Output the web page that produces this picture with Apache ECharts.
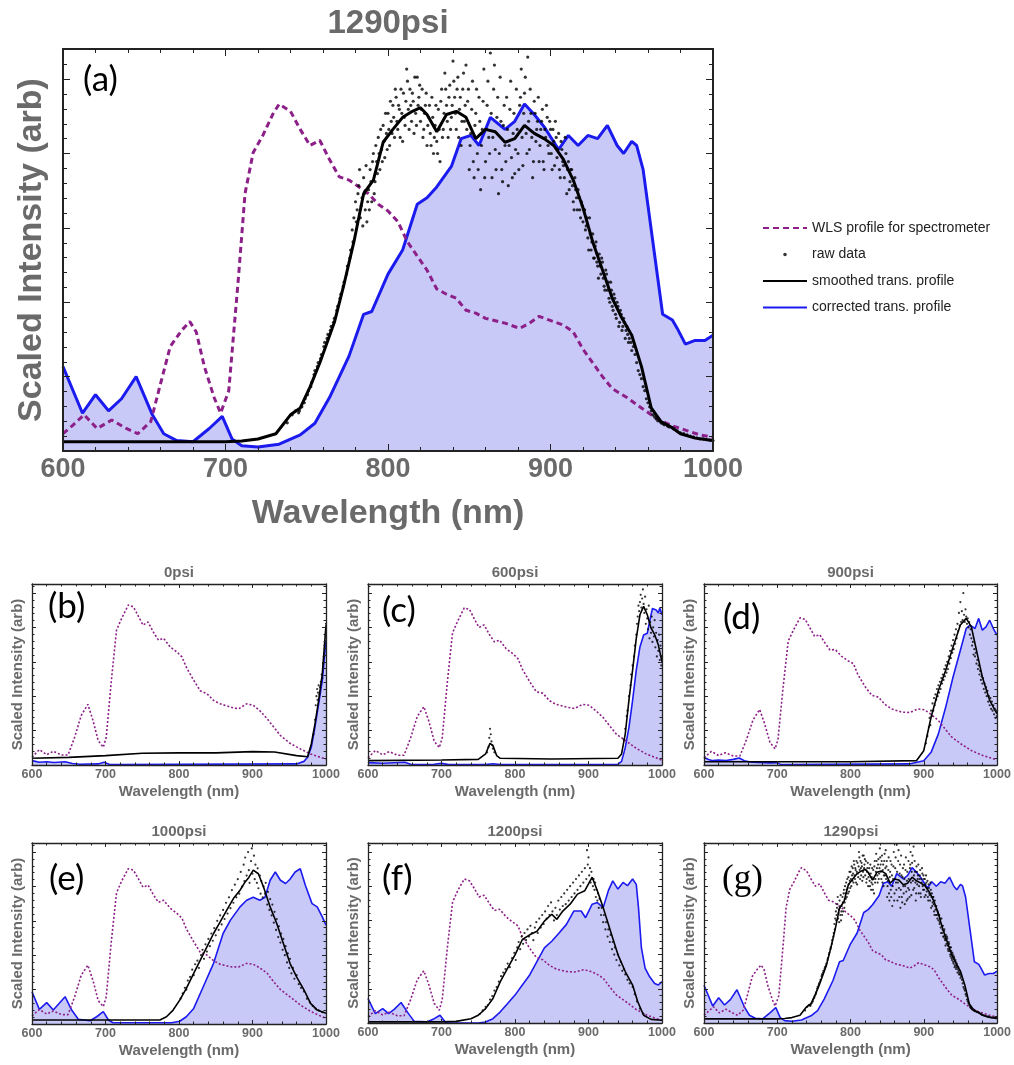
<!DOCTYPE html>
<html>
<head>
<meta charset="utf-8">
<script src="https://cdn.jsdelivr.net/npm/echarts@6/dist/echarts.min.js"></script>
<style>
  html, body { margin: 0; padding: 0; background: #ffffff; }
  #chart { width: 1014px; height: 1065px; }
</style>
</head>
<body>
<div id="chart"></div>
<script>
// ---------------- data: [wavelength nm, scaled intensity] ----------------

// 1290 psi (panels a and g)
const WLS_1290 = [[600,0.043],[606,0.064],[613,0.09],[621,0.056],[630,0.077],[639,0.056],[646,0.043],[654,0.073],[660,0.167],[666,0.26],[673,0.30],[678,0.322],[682,0.296],[687,0.21],[693,0.133],[697,0.094],[702,0.15],[708,0.433],[712,0.64],[717,0.742],[723,0.785],[729,0.837],[733,0.863],[740,0.845],[746,0.80],[752,0.76],[758,0.773],[764,0.725],[770,0.682],[776,0.674],[782,0.657],[788,0.64],[794,0.614],[800,0.597],[806,0.571],[812,0.52],[818,0.485],[824,0.45],[830,0.403],[836,0.39],[842,0.38],[848,0.35],[854,0.343],[860,0.33],[872,0.318],[881,0.305],[887,0.318],[893,0.335],[899,0.326],[908,0.313],[914,0.296],[920,0.253],[926,0.219],[932,0.185],[938,0.155],[947,0.133],[956,0.107],[965,0.082],[974,0.064],[983,0.052],[992,0.04],[1000,0.034]];
const COR_1290 = [[600,0.21],[612,0.094],[620,0.14],[628,0.10],[636,0.13],[645,0.185],[655,0.09],[662,0.043],[670,0.026],[680,0.023],[690,0.056],[698,0.086],[704,0.03],[710,0.013],[720,0.01],[733,0.017],[746,0.04],[755,0.069],[764,0.133],[776,0.236],[785,0.34],[790,0.347],[800,0.44],[809,0.50],[818,0.614],[824,0.63],[830,0.657],[839,0.708],[845,0.777],[851,0.785],[856,0.76],[863,0.83],[872,0.80],[878,0.82],[884,0.863],[890,0.837],[896,0.807],[905,0.75],[911,0.785],[917,0.76],[923,0.785],[929,0.777],[935,0.81],[941,0.76],[945,0.74],[950,0.77],[953,0.76],[957,0.70],[963,0.52],[969,0.34],[975,0.326],[978,0.305],[983,0.266],[989,0.275],[995,0.275],[1000,0.288]];
const SM_1290 = [[600,0.023],[650,0.023],[700,0.023],[710,0.025],[720,0.03],[731,0.043],[740,0.09],[746,0.107],[752,0.159],[758,0.219],[767,0.32],[773,0.416],[779,0.52],[785,0.64],[791,0.674],[797,0.768],[803,0.80],[809,0.83],[815,0.845],[820,0.854],[824,0.837],[830,0.794],[836,0.837],[842,0.845],[848,0.83],[854,0.777],[860,0.80],[866,0.794],[872,0.768],[878,0.777],[884,0.81],[890,0.79],[896,0.777],[902,0.76],[908,0.725],[914,0.674],[920,0.605],[926,0.52],[932,0.45],[938,0.38],[944,0.33],[950,0.288],[956,0.21],[962,0.107],[968,0.073],[974,0.06],[980,0.043],[989,0.032],[1000,0.026]];
const RAW_1290 = [[738,0.07],[741,0.09],[743,0.1],[745,0.095],[747,0.11],[749,0.13],[751,0.15],[753,0.17],[755,0.2],[757,0.22],[759,0.24],[761,0.27],[763,0.29],[765,0.31],[767,0.33],[769,0.36],[771,0.39],[773,0.42],[775,0.46],[777,0.5],[778,0.55],[779,0.58],[780,0.62],[781,0.6],[782,0.66],[783,0.58],[784,0.63],[785,0.68],[786,0.6],[787,0.57],[788,0.65],[789,0.7],[790,0.62],[791,0.74],[792,0.67],[793,0.72],[794,0.78],[795,0.7],[796,0.75],[797,0.81],[798,0.73],[799,0.79],[800,0.84],[801,0.76],[802,0.82],[803,0.86],[804,0.78],[805,0.88],[806,0.8],[807,0.85],[808,0.9],[809,0.77],[810,0.83],[811,0.87],[812,0.92],[813,0.8],[814,0.86],[815,0.89],[816,0.79],[817,0.84],[818,0.93],[819,0.88],[820,0.82],[821,0.9],[822,0.8],[823,0.86],[824,0.76],[825,0.83],[826,0.79],[827,0.88],[828,0.74],[829,0.81],[830,0.77],[831,0.85],[832,0.72],[833,0.9],[834,0.8],[835,0.94],[836,0.86],[837,0.78],[838,0.91],[839,0.83],[840,0.97],[841,0.88],[842,0.8],[843,0.93],[844,0.85],[845,0.76],[846,0.9],[847,0.82],[848,0.96],[849,0.87],[850,0.7],[851,0.79],[852,0.92],[853,0.68],[854,0.84],[855,0.74],[856,0.88],[857,0.65],[858,0.8],[859,0.95],[860,0.72],[861,0.86],[862,0.78],[863,0.99],[864,0.68],[865,0.9],[866,0.75],[867,0.83],[868,0.64],[869,0.93],[870,0.7],[871,0.81],[872,0.76],[873,0.88],[874,0.66],[875,0.85],[876,0.73],[877,0.79],[878,0.69],[879,0.9],[880,0.74],[881,0.86],[882,0.95],[883,0.71],[884,0.89],[885,0.79],[886,0.98],[887,0.75],[888,0.84],[889,0.68],[890,0.87],[891,0.77],[892,0.82],[893,0.72],[894,0.8],[895,0.85],[896,0.7],[897,0.78],[898,0.83],[899,0.74],[900,0.8],[901,0.7],[902,0.77],[903,0.82],[904,0.73],[905,0.79],[906,0.68],[907,0.75],[908,0.71],[909,0.78],[910,0.64],[911,0.72],[912,0.67],[913,0.7],[914,0.62],[915,0.68],[916,0.63],[917,0.65],[918,0.6],[919,0.62],[920,0.57],[921,0.6],[922,0.56],[923,0.53],[924,0.58],[925,0.5],[926,0.54],[927,0.48],[928,0.52],[929,0.46],[930,0.49],[931,0.44],[932,0.47],[933,0.41],[934,0.45],[935,0.4],[936,0.38],[937,0.42],[938,0.36],[939,0.39],[940,0.34],[941,0.37],[942,0.31],[943,0.35],[944,0.3],[945,0.33],[946,0.28],[947,0.31],[948,0.27],[950,0.25],[952,0.24],[954,0.2],[956,0.18],[958,0.15],[960,0.12],[962,0.1],[964,0.085],[966,0.075],[968,0.07],[970,0.065],[973,0.06],[976,0.055],[980,0.045],[984,0.04],[988,0.035],[992,0.03],[996,0.028],[1000,0.026],
  [745.5,0.1],[748.5,0.12],[750.5,0.14],[752.5,0.16],[754.5,0.19],[756.5,0.21],[758.5,0.23],[760.5,0.26],[762.5,0.28],[764.5,0.3],[766.5,0.32],[768.5,0.35],[770.5,0.38],[772.5,0.41],[774.5,0.44],[776.5,0.48],[778.5,0.52],[780.5,0.57],[781.5,0.64],[782.5,0.7],[783.5,0.61],[784.5,0.56],[785.5,0.64],[786.5,0.71],[787.5,0.62],[788.5,0.6],[789.5,0.67],[790.5,0.72],[791.5,0.64],[792.5,0.76],[793.5,0.69],[794.5,0.74],[795.5,0.8],[796.5,0.72],[797.5,0.77],[798.5,0.84],[799.5,0.75],[800.5,0.8],[801.5,0.87],[802.5,0.79],[803.5,0.83],[804.5,0.9],[805.5,0.82],[806.5,0.86],[807.5,0.78],[808.5,0.84],[809.5,0.89],[810.5,0.81],[811.5,0.95],[812.5,0.85],[813.5,0.9],[814.5,0.82],[815.5,0.87],[816.5,0.93],[817.5,0.81],[818.5,0.86],[819.5,0.91],[820.5,0.85],[821.5,0.78],[822.5,0.84],[823.5,0.89],[824.5,0.81],[825.5,0.86],[826.5,0.76],[827.5,0.83],[828.5,0.78],[829.5,0.86],[830.5,0.74],[831.5,0.8],[832.5,0.87],[833.5,0.78],[834.5,0.84],[835.5,0.9],[836.5,0.82],[837.5,0.88],[838.5,0.8],[839.5,0.86],[840.5,0.92],[841.5,0.84],[842.5,0.9],[843.5,0.78],[844.5,0.88],[845.5,0.82],[846.5,0.94],[847.5,0.86],[848.5,0.8],[849.5,0.9],[850.5,0.76],[851.5,0.85],[852.5,0.72],[853.5,0.81],[854.5,0.9],[855.5,0.7],[856.5,0.82],[857.5,0.76],[858.5,0.87],[859.5,0.68],[860.5,0.8],[861.5,0.92],[862.5,0.74],[863.5,0.84],[864.5,0.78],[865.5,0.96],[866.5,0.7],[867.5,0.88],[868.5,0.74],[869.5,0.82],[870.5,0.67],[871.5,0.86],[872.5,0.72],[873.5,0.8],[874.5,0.76],[875.5,0.92],[876.5,0.68],[877.5,0.84],[878.5,0.75],[879.5,0.8],[880.5,0.7],[881.5,0.88],[882.5,0.78],[883.5,0.84],[884.5,0.93],[885.5,0.74],[886.5,0.82],[887.5,0.9],[888.5,0.78],[889.5,0.72],[890.5,0.84],[891.5,0.8],[892.5,0.88],[893.5,0.76],[894.5,0.82],[895.5,0.72],[896.5,0.8],[897.5,0.86],[898.5,0.76],[899.5,0.82],[900.5,0.74],[901.5,0.8],[902.5,0.71],[903.5,0.78],[904.5,0.75],[905.5,0.7],[906.5,0.77],[907.5,0.72],[908.5,0.68],[909.5,0.74],[910.5,0.7],[911.5,0.65],[912.5,0.7],[913.5,0.66],[914.5,0.6],[915.5,0.65],[916.5,0.6],[917.5,0.63],[918.5,0.58],[919.5,0.61],[920.5,0.6],[921.5,0.55],[922.5,0.58],[923.5,0.5],[924.5,0.54],[925.5,0.52],[926.5,0.48],[927.5,0.51],[928.5,0.47],[929.5,0.43],[930.5,0.46],[931.5,0.48],[932.5,0.43],[933.5,0.4],[934.5,0.44],[935.5,0.42],[936.5,0.37],[937.5,0.4],[938.5,0.35],[939.5,0.38],[940.5,0.33],[941.5,0.36],[942.5,0.32],[943.5,0.34],[944.5,0.31],[945.5,0.32],[946.5,0.3],[947.5,0.29],[948.5,0.28],[949.5,0.27],[951,0.26],[953,0.22],[955,0.19],[957,0.16],[959,0.13],[961,0.11],[963,0.09],[965,0.08],[967,0.075],[969,0.068],[972,0.062],[975,0.058],[978,0.05],[982,0.043],[986,0.037],[990,0.033],[994,0.03],[998,0.027]];

// wavelength grid of the WLS profile in the small panels
const WLS_NM = [600,610,620,629,640,649,658,667,676,683,690,697,701,708,715,722,731,738,745,751,758,765,772,779,788,797,804,810,820,829,838,847,856,870,881,892,901,910,920,929,938,951,965,979,992,1000];
const WLS_0    = [0.043,0.085,0.057,0.076,0.055,0.055,0.153,0.274,0.335,0.246,0.135,0.098,0.153,0.468,0.745,0.81,0.884,0.874,0.82,0.773,0.79,0.735,0.69,0.70,0.652,0.625,0.597,0.54,0.468,0.41,0.394,0.357,0.338,0.32,0.31,0.338,0.33,0.30,0.255,0.209,0.163,0.12,0.089,0.061,0.043,0.033];
const WLS_600  = [0.04,0.08,0.056,0.074,0.054,0.054,0.15,0.268,0.322,0.24,0.132,0.096,0.15,0.46,0.73,0.795,0.868,0.86,0.805,0.76,0.774,0.722,0.68,0.69,0.642,0.615,0.588,0.53,0.46,0.405,0.396,0.355,0.335,0.32,0.312,0.335,0.33,0.3,0.262,0.215,0.17,0.133,0.092,0.06,0.04,0.026];
const WLS_900  = [0.04,0.075,0.052,0.068,0.05,0.05,0.14,0.25,0.307,0.225,0.125,0.089,0.14,0.43,0.685,0.745,0.813,0.805,0.755,0.71,0.72,0.675,0.635,0.638,0.6,0.575,0.56,0.5,0.432,0.385,0.375,0.335,0.31,0.292,0.29,0.31,0.305,0.28,0.246,0.2,0.155,0.116,0.08,0.055,0.038,0.028];
const WLS_1000 = [0.045,0.08,0.055,0.072,0.052,0.052,0.15,0.27,0.325,0.24,0.13,0.096,0.15,0.46,0.725,0.79,0.858,0.85,0.8,0.755,0.767,0.715,0.672,0.684,0.64,0.612,0.585,0.525,0.455,0.395,0.381,0.35,0.33,0.316,0.315,0.335,0.33,0.31,0.28,0.232,0.19,0.15,0.105,0.07,0.045,0.031];
const WLS_1200 = [0.035,0.068,0.045,0.06,0.04,0.04,0.13,0.24,0.29,0.21,0.11,0.071,0.13,0.42,0.67,0.735,0.80,0.79,0.745,0.70,0.71,0.665,0.625,0.632,0.59,0.56,0.54,0.48,0.415,0.365,0.351,0.32,0.3,0.286,0.283,0.295,0.29,0.275,0.249,0.2,0.155,0.118,0.075,0.045,0.025,0.015];

// 0 psi
const COR_0 = [[600,0.024],[610,0.015],[620,0.018],[630,0.014],[645,0.018],[655,0.008],[665,0.004],[690,0.006],[698,0.015],[705,0.004],[720,0.003],[960,0.006],[970,0.02],[975,0.043],[980,0.098],[985,0.21],[990,0.338],[995,0.468],[1000,0.69]];
const SM_0 = [[600,0.037],[650,0.042],[700,0.052],[750,0.065],[800,0.067],[850,0.067],[900,0.074],[930,0.072],[960,0.052],[975,0.046],[980,0.116],[985,0.227],[990,0.357],[995,0.505],[1000,0.773]];
const RAW_0 = [[983,0.17],[985,0.25],[986,0.33],[987,0.38],[988,0.42],[988.5,0.36],[989,0.4],[990,0.44],[991,0.39],[992,0.43],[993,0.46],[994,0.5],[995,0.48],[996,0.56],[997,0.6],[998,0.66],[999,0.72],[1000,0.78]];

// 600 psi
const COR_600 = [[600,0.013],[620,0.01],[650,0.015],[660,0.002],[690,0.004],[700,0.009],[710,0.002],[760,0.002],[770,0.007],[780,0.002],[940,0.003],[945,0.02],[950,0.096],[955,0.207],[960,0.357],[965,0.524],[970,0.652],[975,0.718],[980,0.728],[983,0.79],[987,0.865],[992,0.857],[995,0.84],[997,0.867],[1000,0.83]];
const SM_600 = [[600,0.024],[700,0.028],[750,0.031],[760,0.061],[766,0.12],[770,0.107],[775,0.052],[780,0.037],[850,0.033],[940,0.037],[945,0.061],[950,0.172],[955,0.357],[960,0.524],[965,0.70],[970,0.83],[975,0.876],[980,0.83],[985,0.757],[990,0.72],[995,0.664],[1000,0.57]];
const RAW_600 = [[762,0.07],[764,0.1],[765,0.15],[766,0.2],[767,0.17],[768,0.13],[769,0.11],[770,0.09],[772,0.07],[948,0.14],[950,0.2],[952,0.27],[953,0.3],[955,0.38],[957,0.44],[958,0.5],[960,0.55],[962,0.6],[963,0.66],[965,0.72],[966,0.78],[967,0.82],[968,0.88],[969,0.85],[970,0.9],[971,0.94],[972,0.87],[973,0.92],[974,0.97],[975,0.89],[976,0.84],[977,0.93],[978,0.78],[979,0.86],[980,0.81],[981,0.75],[982,0.88],[983,0.7],[984,0.79],[985,0.73],[986,0.82],[987,0.68],[988,0.76],[989,0.71],[990,0.8],[991,0.65],[992,0.73],[993,0.6],[994,0.69],[995,0.63],[996,0.72],[997,0.58],[998,0.66],[999,0.55],[1000,0.6]];

// 900 psi
const COR_900 = [[600,0.043],[606,0.03],[612,0.024],[620,0.028],[630,0.025],[640,0.031],[648,0.039],[655,0.024],[665,0.015],[690,0.012],[700,0.013],[705,0.002],[880,0.006],[900,0.024],[910,0.07],[920,0.172],[930,0.32],[940,0.486],[950,0.634],[958,0.754],[963,0.773],[970,0.754],[975,0.81],[980,0.745],[985,0.763],[990,0.80],[995,0.754],[1000,0.717]];
const SM_900 = [[600,0.018],[700,0.018],[800,0.018],[890,0.024],[900,0.079],[910,0.264],[920,0.412],[930,0.523],[940,0.652],[950,0.773],[958,0.81],[965,0.763],[970,0.67],[975,0.578],[980,0.486],[985,0.421],[990,0.357],[995,0.32],[1000,0.283]];
const RAW_900 = [[903,0.12],[905,0.16],[907,0.21],[908,0.26],[909,0.22],[910,0.3],[911,0.27],[912,0.34],[913,0.3],[914,0.37],[915,0.33],[916,0.39],[917,0.36],[918,0.42],[919,0.38],[920,0.44],[921,0.4],[922,0.46],[923,0.42],[924,0.48],[925,0.45],[926,0.5],[927,0.47],[928,0.53],[929,0.49],[930,0.55],[931,0.51],[932,0.57],[933,0.53],[934,0.6],[935,0.56],[936,0.63],[937,0.59],[938,0.66],[939,0.62],[940,0.69],[941,0.64],[942,0.72],[943,0.67],[944,0.75],[945,0.7],[946,0.78],[947,0.74],[948,0.84],[949,0.77],[950,0.9],[951,0.79],[952,0.85],[953,0.8],[954,0.95],[955,0.83],[956,0.79],[957,0.86],[958,0.82],[959,0.78],[960,0.81],[961,0.76],[962,0.79],[963,0.72],[964,0.75],[965,0.7],[966,0.66],[967,0.68],[968,0.61],[969,0.64],[970,0.6],[971,0.62],[972,0.56],[973,0.58],[974,0.53],[975,0.55],[976,0.5],[977,0.52],[978,0.47],[979,0.49],[980,0.45],[981,0.48],[982,0.42],[983,0.45],[984,0.4],[985,0.43],[986,0.38],[987,0.41],[988,0.35],[989,0.38],[990,0.33],[991,0.37],[992,0.31],[993,0.35],[994,0.3],[995,0.33],[996,0.28],[997,0.31],[998,0.26],[999,0.3],[1000,0.27]];

// 1000 psi
const COR_1000 = [[600,0.178],[610,0.081],[620,0.118],[629,0.077],[635,0.105],[645,0.151],[654,0.077],[663,0.026],[679,0.018],[688,0.04],[697,0.068],[704,0.022],[710,0.007],[790,0.007],[801,0.015],[810,0.04],[820,0.086],[833,0.206],[847,0.335],[860,0.50],[870,0.574],[883,0.647],[892,0.684],[901,0.70],[910,0.684],[917,0.70],[924,0.794],[931,0.84],[938,0.794],[945,0.776],[951,0.80],[958,0.84],[965,0.858],[972,0.765],[981,0.665],[988,0.647],[995,0.592],[1000,0.546]];
const SM_1000 = [[600,0.022],[700,0.022],[774,0.022],[783,0.04],[792,0.077],[801,0.132],[810,0.197],[820,0.28],[829,0.353],[838,0.426],[847,0.50],[856,0.564],[865,0.629],[874,0.693],[883,0.739],[890,0.785],[895,0.81],[901,0.85],[908,0.83],[915,0.757],[924,0.647],[933,0.555],[942,0.445],[951,0.335],[960,0.26],[970,0.188],[979,0.114],[988,0.077],[1000,0.059]];
const RAW_1000 = [[802,0.14],[805,0.17],[808,0.2],[810,0.19],[812,0.24],[815,0.26],[818,0.3],[820,0.27],[822,0.33],[825,0.35],[827,0.31],[830,0.38],[832,0.41],[834,0.36],[836,0.44],[838,0.4],[840,0.47],[842,0.43],[844,0.5],[846,0.46],[848,0.53],[850,0.49],[852,0.57],[854,0.52],[856,0.6],[858,0.55],[860,0.63],[862,0.58],[864,0.67],[866,0.61],[868,0.7],[870,0.64],[872,0.74],[874,0.67],[876,0.77],[878,0.7],[880,0.8],[882,0.72],[884,0.84],[886,0.76],[888,0.88],[889,0.79],[890,0.92],[892,0.82],[894,0.95],[895,0.85],[896,0.78],[898,0.9],[899,0.97],[900,0.83],[902,0.93],[903,0.8],[904,0.88],[906,0.78],[907,0.86],[908,0.75],[910,0.82],[911,0.72],[912,0.79],[914,0.7],[915,0.76],[917,0.72],[918,0.78],[920,0.66],[921,0.73],[923,0.63],[924,0.69],[926,0.6],[927,0.66],[929,0.56],[930,0.62],[932,0.52],[933,0.58],[935,0.48],[936,0.54],[938,0.45],[939,0.5],[941,0.41],[942,0.47],[944,0.38],[945,0.43],[947,0.34],[948,0.39],[950,0.31],[951,0.36],[953,0.28],[955,0.31],[957,0.25],[960,0.27],[963,0.22],[966,0.2],[970,0.18],[974,0.14],[978,0.12],[982,0.1],[986,0.085],[990,0.075],[995,0.065]];

// 1200 psi
const COR_1200 = [[600,0.136],[610,0.052],[620,0.08],[628,0.052],[636,0.077],[645,0.114],[655,0.052],[663,0.009],[680,0.006],[690,0.024],[698,0.043],[705,0.006],[710,0.0],[750,0.0],[760,0.006],[770,0.024],[780,0.062],[790,0.108],[800,0.155],[810,0.211],[820,0.267],[830,0.342],[840,0.417],[850,0.454],[860,0.50],[870,0.548],[880,0.622],[890,0.622],[896,0.585],[905,0.66],[912,0.669],[920,0.641],[927,0.735],[933,0.79],[940,0.744],[947,0.781],[953,0.763],[960,0.80],[965,0.77],[968,0.641],[972,0.417],[977,0.305],[983,0.258],[990,0.22],[995,0.211],[1000,0.23]];
const SM_1200 = [[600,0.006],[700,0.006],[720,0.009],[740,0.024],[750,0.043],[760,0.08],[770,0.136],[780,0.23],[790,0.305],[800,0.379],[810,0.464],[820,0.49],[830,0.51],[840,0.566],[850,0.604],[857,0.576],[865,0.622],[875,0.66],[885,0.716],[895,0.735],[905,0.81],[912,0.735],[920,0.641],[930,0.51],[940,0.38],[950,0.286],[960,0.211],[967,0.118],[975,0.043],[985,0.02],[1000,0.015]];
const RAW_1200 = [[752,0.05],[756,0.07],[760,0.09],[763,0.1],[766,0.13],[769,0.15],[772,0.18],[775,0.2],[778,0.23],[781,0.26],[784,0.28],[787,0.3],[790,0.33],[793,0.31],[796,0.36],[799,0.39],[801,0.35],[803,0.42],[805,0.45],[807,0.41],[809,0.48],[811,0.44],[813,0.5],[815,0.46],[817,0.52],[819,0.48],[821,0.54],[823,0.5],[825,0.46],[827,0.53],[829,0.56],[831,0.5],[833,0.58],[835,0.53],[837,0.6],[839,0.55],[841,0.62],[843,0.58],[845,0.65],[847,0.6],[849,0.67],[851,0.62],[853,0.57],[855,0.64],[857,0.6],[859,0.68],[861,0.63],[863,0.7],[865,0.65],[867,0.72],[869,0.66],[871,0.74],[873,0.68],[875,0.76],[877,0.7],[879,0.78],[881,0.72],[883,0.8],[885,0.74],[887,0.82],[889,0.76],[891,0.84],[893,0.78],[895,0.86],[897,0.8],[898,0.96],[899,0.88],[900,0.92],[901,0.82],[902,0.86],[903,0.78],[904,0.84],[905,0.8],[906,0.76],[907,0.8],[908,0.74],[909,0.78],[910,0.7],[911,0.74],[912,0.68],[913,0.72],[914,0.64],[915,0.69],[917,0.6],[918,0.64],[920,0.56],[921,0.6],[923,0.52],[924,0.56],[926,0.48],[927,0.52],[929,0.45],[930,0.49],[932,0.41],[933,0.45],[935,0.38],[936,0.42],[938,0.35],[940,0.38],[942,0.32],[944,0.34],[946,0.29],[948,0.3],[950,0.27],[953,0.24],[956,0.22],[960,0.2],[963,0.16],[966,0.12],[970,0.08],[975,0.05]];

const SERIES_NAMES = ['WLS profile for spectrometer', 'raw data', 'smoothed trans. profile', 'corrected trans. profile'];

// ---------------- panel layout ----------------
const pairs = (xs, ys) => xs.map((x, i) => [x, ys[i]]);

const PANELS = [
  { title: '1290psi', tag: '(a)', big: true,  grid: { left: 63,  top: 49,  width: 650, height: 402 }, tagPos: [83, 62],  tagFont: 'Lato',
    wls: WLS_1290, raw: RAW_1290, sm: SM_1290, cor: COR_1290 },
  { title: '0psi',    tag: '(b)', grid: { left: 32,  top: 584, width: 294, height: 181 }, tagPos: [48, 589],  tagFont: 'Lato',
    wls: pairs(WLS_NM, WLS_0), raw: RAW_0, sm: SM_0, cor: COR_0 },
  { title: '600psi',  tag: '(c)', grid: { left: 368, top: 584, width: 294, height: 181 }, tagPos: [382, 593], tagFont: 'Lato',
    wls: pairs(WLS_NM, WLS_600), raw: RAW_600, sm: SM_600, cor: COR_600 },
  { title: '900psi',  tag: '(d)', grid: { left: 704, top: 584, width: 293, height: 181 }, tagPos: [723, 600], tagFont: 'Lato',
    wls: pairs(WLS_NM, WLS_900), raw: RAW_900, sm: SM_900, cor: COR_900 },
  { title: '1000psi', tag: '(e)', grid: { left: 32,  top: 843, width: 294, height: 181 }, tagPos: [49, 861],  tagFont: 'Lato',
    wls: pairs(WLS_NM, WLS_1000), raw: RAW_1000, sm: SM_1000, cor: COR_1000 },
  { title: '1200psi', tag: '(f)', grid: { left: 368, top: 843, width: 294, height: 180 }, tagPos: [382, 861], tagFont: 'Lato',
    wls: pairs(WLS_NM, WLS_1200), raw: RAW_1200, sm: SM_1200, cor: COR_1200 },
  { title: '1290psi', tag: '(g)', grid: { left: 704, top: 843, width: 294, height: 180 }, tagPos: [722, 862], tagFont: 'Liberation Serif',
    wls: WLS_1290, raw: RAW_1290, sm: SM_1290, cor: COR_1290 }
];

const GRAY = '#6a6a6a';
const FRAME = '#222222';
const FONT = '"Liberation Sans", Arial, sans-serif';

const grids = [], xAxes = [], yAxes = [], series = [], titles = [], graphics = [];

PANELS.forEach((p, i) => {
  const S = p.big
    ? { tick: 27, name: 34, title: 33, frame: 2, major: 7, minor: 4, xGap: 46, yGap: 14, lab: 5,
        line: 3, dot: 3.2, dash: [6, 4], dashW: 3, tagSize: 35 }
    : { tick: 12.5, name: 15, title: 15, frame: 1.3, major: 4, minor: 2.5, xGap: 19, yGap: 7, lab: 3,
        line: 1.6, dot: 2.2, dash: [2, 2], dashW: 1.6, tagSize: 35 };

  grids.push(Object.assign({ show: false, containLabel: false }, p.grid));

  const tickCommon = (pos, isX) => ({
    gridIndex: i, type: 'value', position: pos, z: 5,
    min: isX ? 600 : 0, max: isX ? 1000 : 1, interval: isX ? 100 : (p.big ? 0.185 : 0.19),
    axisLine: { show: true, onZero: false, lineStyle: { color: FRAME, width: S.frame } },
    axisTick: { show: true, inside: true, length: S.major, lineStyle: { color: FRAME, width: 1 } },
    minorTick: { show: true, splitNumber: 5, length: S.minor, lineStyle: { color: FRAME, width: 1 } },
    splitLine: { show: false }, minorSplitLine: { show: false }
  });

  // bottom axis with labels and name
  xAxes.push(Object.assign(tickCommon('bottom', true), {
    name: 'Wavelength (nm)', nameLocation: 'middle', nameGap: S.xGap,
    nameTextStyle: { fontFamily: FONT, fontWeight: 'bold', fontSize: S.name, color: GRAY },
    axisLabel: { show: true, margin: S.lab, fontFamily: FONT, fontWeight: 'bold', fontSize: S.tick, color: GRAY,
                 showMinLabel: true, showMaxLabel: true, formatter: v => String(v) }
  }));
  // top axis: tick marks only
  xAxes.push(Object.assign(tickCommon('top', true), { axisLabel: { show: false } }));
  // left axis: name, no labels
  yAxes.push(Object.assign(tickCommon('left', false), {
    name: 'Scaled Intensity (arb)', nameLocation: 'middle', nameGap: S.yGap,
    nameTextStyle: { fontFamily: FONT, fontWeight: 'bold', fontSize: S.name, color: GRAY },
    axisLabel: { show: false }
  }));
  // right axis: tick marks only
  yAxes.push(Object.assign(tickCommon('right', false), { axisLabel: { show: false } }));

  const xi = 2 * i, yi = 2 * i;
  series.push({
    name: SERIES_NAMES[3], type: 'line', xAxisIndex: xi, yAxisIndex: yi, data: p.cor,
    symbol: 'none', z: 2,
    lineStyle: { color: '#1b1bef', width: S.line },
    itemStyle: { color: '#1b1bef' },
    areaStyle: { color: '#c9c9f8', opacity: 1, origin: 'start' }
  });
  series.push({
    name: SERIES_NAMES[0], type: 'line', xAxisIndex: xi, yAxisIndex: yi, data: p.wls,
    symbol: 'none', z: 3,
    lineStyle: { color: '#8c1f88', width: S.dashW, type: S.dash },
    itemStyle: { color: '#8c1f88' }
  });
  series.push({
    name: SERIES_NAMES[1], type: 'scatter', xAxisIndex: xi, yAxisIndex: yi, data: p.raw,
    symbol: 'circle', symbolSize: S.dot, z: 4,
    itemStyle: { color: '#000000' }
  });
  series.push({
    name: SERIES_NAMES[2], type: 'line', xAxisIndex: xi, yAxisIndex: yi, data: p.sm,
    symbol: 'none', z: 4,
    lineStyle: { color: '#000000', width: S.line },
    itemStyle: { color: '#000000' }
  });

  titles.push({
    text: p.title, left: p.grid.left + p.grid.width / 2, textAlign: 'center',
    top: p.big ? 7 : p.grid.top - 19, padding: 0,
    textStyle: { fontFamily: FONT, fontWeight: 'bold', fontSize: S.title, color: GRAY }
  });

  graphics.push({
    type: 'text', left: p.tagPos[0], top: p.tagPos[1], z: 10,
    style: { text: p.tag, fontFamily: p.tagFont, fontSize: S.tagSize, fill: '#000000' }
  });
});

// legend: line entries hide the marker that line icons carry by default
const legendData = SERIES_NAMES.map(n => n === 'raw data'
  ? { name: n }
  : { name: n, itemStyle: { opacity: 0 } });

const chart = echarts.init(document.getElementById('chart'), null, { renderer: 'canvas' });
chart.setOption({
  animation: false,
  backgroundColor: '#ffffff',
  title: titles,
  grid: grids,
  xAxis: xAxes,
  yAxis: yAxes,
  legend: {
    orient: 'vertical', left: 762, top: 220, padding: 0,
    itemWidth: 44, itemHeight: 3.5, itemGap: 10.5,
    selectedMode: false,
    data: legendData,
    textStyle: { fontFamily: FONT, fontSize: 14, color: '#222222', lineHeight: 16 }
  },
  graphic: graphics,
  series: series
});
</script>
</body>
</html>
